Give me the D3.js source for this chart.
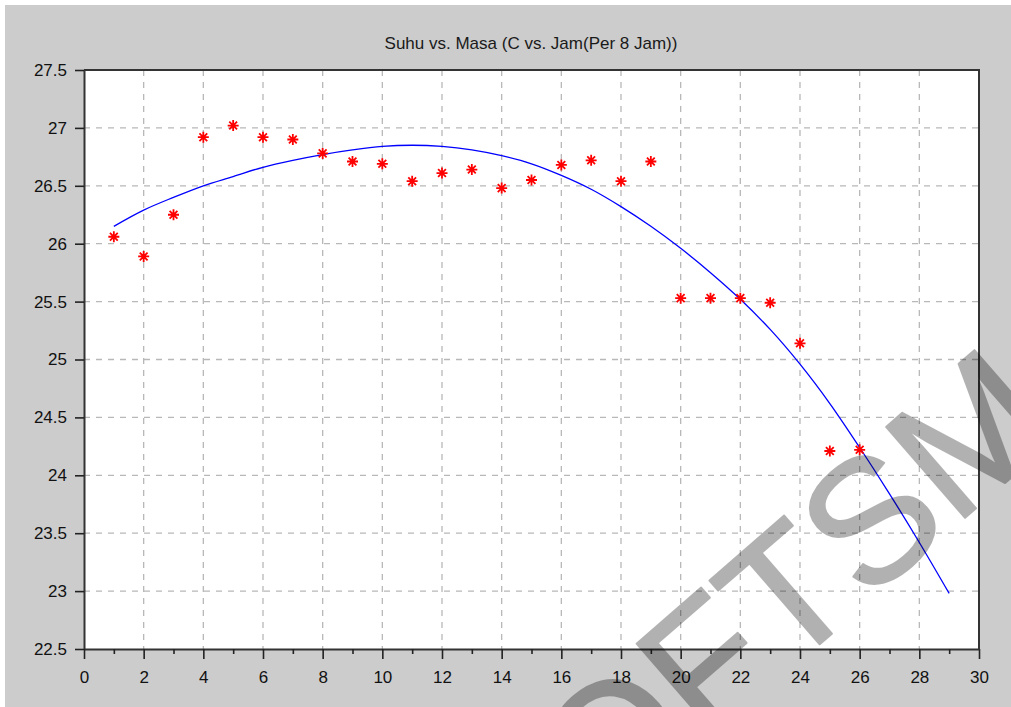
<!DOCTYPE html>
<html><head><meta charset="utf-8">
<script src="https://cdn.jsdelivr.net/npm/d3@7"></script>
<style>html,body{margin:0;padding:0;background:#fff;} svg{display:block;}</style>
</head><body>
<svg id="chart" width="1011" height="707"></svg>
<script>
const titleText = "Suhu vs. Masa (C vs. Jam(Per 8 Jam))";
const hours = [1,2,3,4,5,6,7,8,9,10,11,12,13,14,15,16,17,18,19,20,21,22,23,24,25,26];
const temps = [26.06,25.89,26.25,26.92,27.02,26.92,26.90,26.78,26.71,26.69,26.54,26.61,26.64,26.48,26.55,26.68,26.72,26.54,26.71,25.53,25.53,25.53,25.49,25.14,24.21,24.22];
const fitHours = [1,2,3,4,5,6,7,8,9,10,11,12,13,14,15,16,17,18,19,20,21,22,23,24,25,26,27,28,29];
const fitTemps = [26.15,26.29,26.40,26.50,26.58,26.66,26.72,26.77,26.81,26.84,26.85,26.84,26.81,26.76,26.69,26.59,26.47,26.32,26.15,25.96,25.75,25.52,25.26,24.96,24.62,24.24,23.84,23.42,22.98];
const xTicks = [0,2,4,6,8,10,12,14,16,18,20,22,24,26,28,30];
const xMinorTicks = [1,3,5,7,9,11,13,15,17,19,21,23,25,27,29];
const yTicks = [22.5,23,23.5,24,24.5,25,25.5,26,26.5,27,27.5];
const watermarkText = "SOFTSM";

const W = 1011, H = 707;
const m = {left: 84, right: 979, top: 70, bottom: 649};
const FONT = "'Liberation Sans', Arial, Helvetica, sans-serif";
const svg = d3.select("#chart");

svg.append("rect").attr("x", 5).attr("y", 5).attr("width", W - 5).attr("height", H - 5).attr("fill", "#cccccc");
svg.append("rect").attr("x", m.left).attr("y", m.top).attr("width", m.right - m.left).attr("height", m.bottom - m.top).attr("fill", "#ffffff");

const x = d3.scaleLinear().domain([0, 30]).range([m.left, m.right]);
const y = d3.scaleLinear().domain([22.5, 27.5]).range([m.bottom, m.top]);

// grid
const grid = svg.append("g").attr("stroke", "#b8b8b8").attr("stroke-width", 1.3).attr("stroke-dasharray", "6,6").attr("fill", "none");
grid.selectAll("line.gv").data(xTicks.filter(d => d > 0 && d < 30)).join("line").attr("class", "gv")
  .attr("x1", d => x(d)).attr("x2", d => x(d)).attr("y1", m.top).attr("y2", m.bottom);
grid.selectAll("line.gh").data(yTicks.filter(d => d > 22.5 && d < 27.5)).join("line").attr("class", "gh")
  .attr("y1", d => y(d)).attr("y2", d => y(d)).attr("x1", m.left).attr("x2", m.right);

// fit curve
const line = d3.line().x((d, i) => x(fitHours[i])).y(d => y(d)).curve(d3.curveCatmullRom);
svg.append("path").datum(fitTemps).attr("d", line).attr("fill", "none").attr("stroke", "#0000ff").attr("stroke-width", 1.3);

// asterisk markers
const r = 5.5, dd = 3.9;
const star = `M${-r},0L${r},0M0,${-r}L0,${r}M${-dd},${-dd}L${dd},${dd}M${-dd},${dd}L${dd},${-dd}`;
svg.append("g").selectAll("path").data(temps).join("path")
  .attr("transform", (d, i) => `translate(${x(hours[i])},${y(d)})`)
  .attr("d", star).attr("stroke", "#ff0000").attr("stroke-width", 1.8).attr("fill", "none");

// axes
const yAxis = d3.axisLeft(y).tickValues(yTicks).tickSize(9).tickSizeOuter(0).tickPadding(8).tickFormat(d3.format("~g"));
const gy = svg.append("g").attr("transform", `translate(${m.left},0)`).call(yAxis);
const xAxis = d3.axisBottom(x).tickValues(xTicks).tickSize(10).tickSizeOuter(0).tickPadding(12).tickFormat(d3.format("d"));
const gx = svg.append("g").attr("transform", `translate(0,${m.bottom})`).call(xAxis);
const xMinor = d3.axisBottom(x).tickValues(xMinorTicks).tickSize(5).tickSizeOuter(0).tickFormat("");
const gxm = svg.append("g").attr("transform", `translate(0,${m.bottom})`).call(xMinor);
gxm.select(".domain").remove();
[gx, gy, gxm].forEach(g => {
  g.selectAll(".tick line").attr("stroke", "#222").attr("stroke-width", 1.6);
  g.selectAll(".domain").attr("stroke", "#333").attr("stroke-width", 2);
  g.selectAll("text").attr("font-family", FONT).attr("font-size", 17).attr("fill", "#111");
});
// top/right box
svg.append("line").attr("x1", m.left).attr("x2", m.right).attr("y1", m.top).attr("y2", m.top).attr("stroke", "#333").attr("stroke-width", 2);
svg.append("line").attr("x1", m.right).attr("x2", m.right).attr("y1", m.top - 1).attr("y2", m.bottom + 1).attr("stroke", "#333").attr("stroke-width", 2);

// title
svg.append("text").attr("x", 531).attr("y", 49).attr("text-anchor", "middle")
  .attr("font-family", FONT).attr("font-size", 17).attr("fill", "#1a1a1a").text(titleText);

// watermark
const wm = svg.append("g").attr("opacity", 0.3);
wm.append("text").attr("transform", "translate(514,910) rotate(-41)")
  .attr("font-family", FONT).attr("font-size", 175).attr("fill", "#000")
  .attr("stroke", "#000").attr("stroke-width", 2).attr("stroke-linejoin", "round")
  .text(watermarkText);
</script>
</body></html>
